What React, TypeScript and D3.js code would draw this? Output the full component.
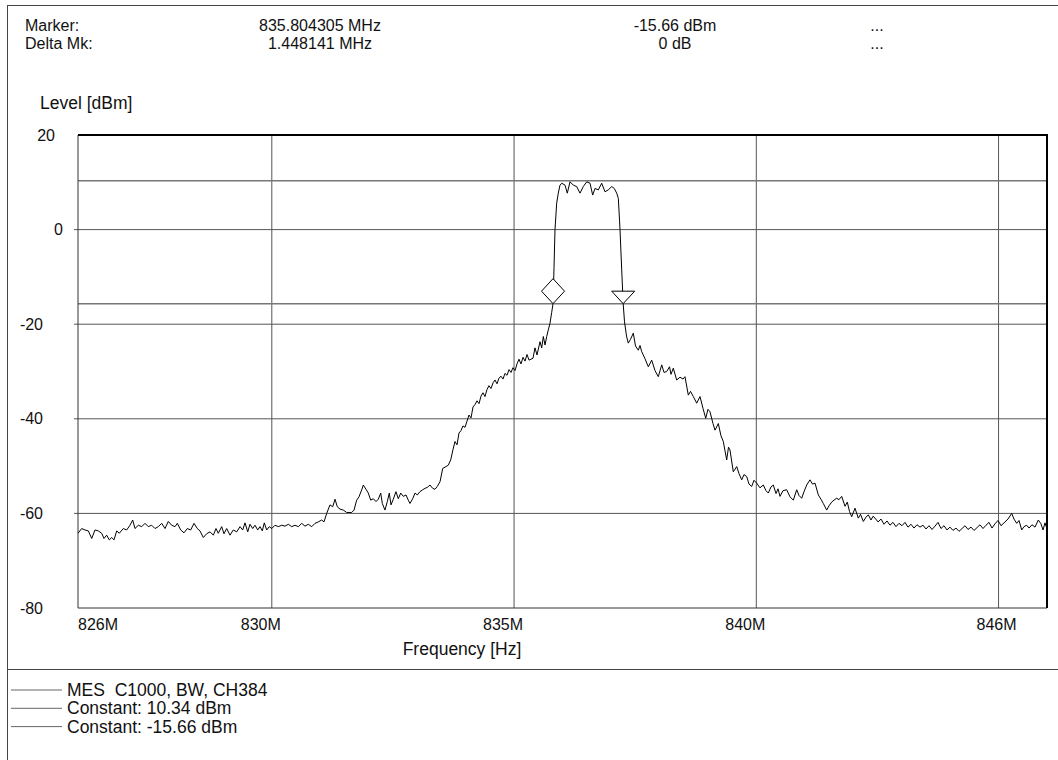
import * as d3 from "d3";

// trace segments, [frequency MHz, level dBm]
const noiseLow: [number, number][] = [
  [826.0, -64.2], [826.076, -63.2], [826.144, -63.5], [826.213, -63.7], [826.283, -65.3], [826.351, -63.5],
  [826.419, -63.7], [826.489, -64.2], [826.537, -65.3], [826.592, -64.6], [826.646, -65.6], [826.696, -65.1],
  [826.743, -65.6], [826.799, -63.7], [826.852, -64.2], [826.935, -63.2], [827.005, -63.5], [827.073, -62.5],
  [827.129, -61.4], [827.176, -63.2], [827.245, -62.5], [827.315, -62.8], [827.383, -62.1], [827.451, -62.8],
  [827.521, -62.5], [827.589, -63.2], [827.657, -62.8], [827.728, -62.1], [827.796, -63.2], [827.864, -61.7],
  [827.934, -62.5], [828.002, -62.8], [828.05, -62.1], [828.12, -63.5], [828.188, -64.1], [828.256, -63.2],
  [828.326, -63.5], [828.394, -62.1], [828.462, -63.2], [828.518, -63.7], [828.586, -65.1], [828.656, -64.3],
  [828.725, -63.9], [828.793, -64.6], [828.848, -63.2], [828.896, -64.2], [828.966, -62.8], [829.013, -64.3],
  [829.069, -63.2], [829.137, -64.6], [829.205, -63.5], [829.276, -63.9], [829.344, -62.8], [829.399, -63.5],
  [829.447, -62.0], [829.503, -63.9], [829.55, -62.3], [829.606, -63.2], [829.653, -62.5], [829.709, -63.5],
  [829.757, -62.8], [829.804, -63.7], [829.845, -62.0], [829.895, -63.5], [829.948, -62.8], [829.998, -63.2],
  [830.066, -62.5], [830.134, -62.8], [830.204, -62.5], [830.273, -62.7], [830.341, -62.3], [830.411, -62.8],
  [830.479, -62.5], [830.547, -62.8], [830.617, -62.1], [830.685, -62.7], [830.753, -62.3], [830.824, -62.8],
  [830.892, -62.1], [830.96, -61.8], [831.03, -61.4], [831.077, -61.8],
];

const spursLow: [number, number][] = [
  [831.133, -60.0], [831.201, -58.2], [831.257, -58.6], [831.305, -57.0], [831.352, -58.6], [831.408, -59.1],
  [831.476, -59.3], [831.546, -59.8], [831.649, -59.8], [831.697, -59.3], [831.752, -57.2], [831.8, -56.5],
  [831.856, -55.0], [831.889, -54.0], [831.944, -54.9], [831.992, -55.7], [832.041, -57.2], [832.095, -56.9],
  [832.151, -57.5], [832.198, -57.0], [832.248, -55.7], [832.281, -57.9], [832.336, -59.3], [832.384, -57.5],
  [832.425, -55.7], [832.46, -58.2], [832.508, -57.0], [832.563, -55.4], [832.611, -56.9], [832.661, -55.7],
  [832.714, -56.4], [832.77, -56.1], [832.817, -57.2], [832.852, -57.9], [832.908, -56.9], [832.956, -55.7],
  [833.003, -56.1], [833.059, -55.4], [833.115, -55.0], [833.162, -54.7], [833.21, -54.5], [833.265, -54.0],
  [833.321, -54.7], [833.368, -54.9], [833.416, -54.3], [833.472, -53.3], [833.527, -50.5], [833.596, -50.1],
  [833.643, -49.8], [833.692, -48.7],
];

const skirtLow: [number, number][] = [
  [833.74, -46.5], [833.781, -44.8], [833.823, -45.5], [833.864, -43.0], [833.905, -42.5], [833.946, -41.5],
  [833.988, -41.8], [834.029, -40.5], [834.07, -39.2], [834.112, -39.8], [834.153, -37.5], [834.194, -37.0],
  [834.235, -36.2], [834.277, -36.8], [834.318, -35.2], [834.359, -34.5], [834.4, -35.3], [834.442, -33.8],
  [834.483, -33.0], [834.524, -33.6], [834.566, -32.4], [834.607, -31.8], [834.648, -32.6], [834.689, -31.4],
  [834.731, -31.0], [834.772, -31.6], [834.813, -30.4], [834.855, -30.8], [834.896, -29.6], [834.937, -30.2],
  [834.978, -29.2], [835.02, -29.8], [835.061, -28.4], [835.102, -27.4], [835.143, -28.4], [835.185, -27.0],
  [835.226, -27.8], [835.267, -26.4], [835.309, -27.6], [835.35, -27.4], [835.391, -27.2], [835.432, -25.0],
  [835.474, -26.5], [835.536, -23.7], [835.571, -25.0], [835.604, -22.6], [835.639, -24.4], [835.674, -22.6],
  [835.707, -21.2], [835.742, -19.8], [835.777, -17.5], [835.804305, -15.66],
];

const channel: [number, number][] = [
  [835.825, -8.0], [835.845, 0.0], [835.88, 5.6], [835.913, 7.7], [835.948, 9.4], [835.984, 9.8],
  [836.052, 9.4], [836.099, 7.7], [836.155, 10.1], [836.223, 9.4], [836.293, 9.1], [836.361, 7.7],
  [836.429, 9.1], [836.5, 10.1], [836.568, 9.8], [836.623, 7.3], [836.671, 8.7], [836.739, 8.4],
  [836.809, 9.8], [836.877, 8.0], [836.945, 8.4], [837.016, 9.1], [837.069, 8.7], [837.119, 7.7],
  [837.152, 6.6], [837.177, 2.0], [837.187, 0.0], [837.222, -8.5], [837.252446, -15.66],
];

const skirtHigh: [number, number][] = [
  [837.28, -19.5], [837.321, -22.5], [837.358, -24.0], [837.404, -23.2], [837.461, -21.9], [837.507, -24.6],
  [837.565, -25.5], [837.6, -24.5], [837.635, -25.8], [837.703, -27.3], [837.771, -29.0], [837.841, -27.6],
  [837.909, -29.8], [837.977, -31.1], [838.048, -28.6], [838.095, -30.2], [838.151, -30.0], [838.209, -29.0],
  [838.239, -30.6], [838.287, -29.3], [838.357, -31.8], [838.425, -31.2], [838.487, -31.6], [838.528, -31.1],
  [838.597, -35.0], [838.642, -34.2], [838.7, -35.3], [838.77, -36.7], [838.838, -35.3], [838.9, -37.8],
  [838.956, -39.9], [839.003, -38.0], [839.044, -38.5], [839.106, -41.0], [839.148, -42.4], [839.216, -41.0],
  [839.271, -43.6], [839.319, -44.8], [839.389, -48.7], [839.426, -46.0], [839.457, -46.6], [839.525, -51.2],
  [839.596, -50.1], [839.643, -51.6], [839.699, -52.9], [839.746, -51.8], [839.802, -52.2], [839.849, -53.8],
  [839.905, -54.3], [839.953, -53.0], [840.008, -53.6], [840.076, -54.6], [840.145, -54.0], [840.2, -55.2],
  [840.248, -55.7], [840.303, -54.4], [840.351, -54.0], [840.407, -55.8], [840.448, -54.8], [840.489, -56.4],
  [840.551, -55.2], [840.627, -55.0], [840.696, -56.5], [840.764, -57.2], [840.834, -55.0], [840.881, -56.2],
  [840.937, -56.8], [840.985, -55.4], [841.04, -54.0], [841.108, -52.9], [841.16, -53.8], [841.212, -53.6],
  [841.28, -56.1], [841.335, -57.0], [841.383, -57.9], [841.453, -59.3], [841.5, -58.4], [841.556, -57.6],
  [841.604, -57.2], [841.659, -56.8], [841.707, -57.1], [841.763, -56.4], [841.831, -58.5], [841.878, -57.6],
  [841.924, -59.6], [841.969, -60.7], [842.037, -58.9], [842.105, -61.0], [842.151, -60.2], [842.209, -61.7],
  [842.264, -60.8], [842.312, -60.3], [842.367, -61.4], [842.409, -60.6],
];

const noiseHigh: [number, number][] = [
  [842.45, -61.0], [842.512, -61.8], [842.574, -61.2], [842.636, -62.3], [842.698, -61.6], [842.759, -62.5],
  [842.821, -61.9], [842.883, -62.8], [842.945, -62.1], [843.007, -62.6], [843.069, -61.9], [843.131, -62.9],
  [843.193, -62.3], [843.255, -63.1], [843.317, -62.4], [843.379, -62.9], [843.441, -62.5], [843.503, -63.3],
  [843.565, -62.6], [843.627, -63.4], [843.688, -62.7], [843.75, -61.9], [843.812, -63.2], [843.874, -62.6],
  [843.936, -63.5], [843.998, -62.9], [844.06, -63.6], [844.122, -63.1], [844.184, -63.8], [844.246, -63.2],
  [844.308, -62.6], [844.37, -63.4], [844.432, -62.9], [844.494, -63.6], [844.556, -63.0], [844.617, -62.4],
  [844.679, -63.2], [844.741, -62.5], [844.803, -61.9], [844.865, -63.1], [844.927, -62.2], [844.989, -61.5],
  [845.051, -62.6], [845.113, -62.0], [845.195, -61.2], [845.272, -60.0], [845.319, -61.2], [845.375, -62.1],
  [845.422, -61.5], [845.478, -63.5], [845.525, -62.8], [845.581, -62.5], [845.629, -63.1], [845.69, -62.4],
  [845.752, -62.9], [845.821, -61.4], [845.876, -62.2], [845.918, -63.5], [845.959, -62.0], [846.0, -63.3],
];

const yTicks = [20, 0, -20, -40, -60, -80];
const yGrid = [0, -20, -40, -60];
const xGrid = [830, 835, 840, 845];
const xTickValues = [826, 830, 835, 840, 845];
const xTickLabels = ["826M", "830M", "835M", "840M", "846M"];
const constantLevels = [10.34, -15.66];

const markerFreq = 835.804305;
const markerLevel = -15.66;
const deltaFreq = 1.448141;
const deltaLevel = 0;

const headerRows = [
  ["Marker:", "835.804305 MHz", "-15.66 dBm", "..."],
  ["Delta Mk:", "1.448141 MHz", "0 dB", "..."],
];
const legendItems = ["MES  C1000, BW, CH384", "Constant: 10.34 dBm", "Constant: -15.66 dBm"];

const W = 1058;
const H = 760;
const plot = { left: 78, right: 1047, top: 135, bottom: 608 };
const font = "'Liberation Sans', Arial, Helvetica, sans-serif";

export default function App() {
  const x = d3.scaleLinear().domain([826, 846]).range([plot.left, plot.right]);
  const y = d3.scaleLinear().domain([-80, 20]).range([plot.bottom, plot.top]);

  const trace = [...noiseLow, ...spursLow, ...skirtLow, ...channel, ...skirtHigh, ...noiseHigh];
  const line = d3
    .line<[number, number]>()
    .x((d) => x(d[0]))
    .y((d) => y(d[1]));

  const mx = x(markerFreq);
  const my = y(markerLevel);
  const dx = x(markerFreq + deltaFreq);
  const dy = y(markerLevel + deltaLevel);
  const diamond = `M${mx},${my} L${mx - 11.5},${my - 12.5} L${mx},${my - 25} L${mx + 11.5},${my - 12.5} Z`;
  const triangle = `M${dx},${dy} L${dx - 11.5},${dy - 12.5} L${dx + 11.5},${dy - 12.5} Z`;

  const headerCols = [
    { x: 25, anchor: "start" },
    { x: 320, anchor: "middle" },
    { x: 675, anchor: "middle" },
    { x: 877, anchor: "middle" },
  ];

  // tick label placement mimics the analyzer printout
  const xLabelPos = (i: number) => {
    if (i === 0) return { x: x(xTickValues[i]), anchor: "start" };
    if (i === xTickValues.length - 1) return { x: x(xTickValues[i]) - 2, anchor: "middle" };
    return { x: x(xTickValues[i]) + 9, anchor: "end" };
  };
  const yLabelX = (v: number) => (v > 0 ? 55 : v === 0 ? 63 : 43);

  return (
    <svg
      width={W}
      height={H}
      style={{ position: "absolute", left: 0, top: 0, background: "#fff" }}
      fontFamily={font}
      fontSize={16}
    >
      <rect x={0} y={0} width={W} height={H} fill="#fff" />
      {/* page frame */}
      <rect x={7.5} y={5.5} width={W + 10} height={H + 10} fill="none" stroke="#444" strokeWidth={1} />
      <line x1={7.5} x2={W} y1={669.5} y2={669.5} stroke="#444" strokeWidth={1} />

      {headerRows.map((row, r) =>
        row.map((t, c) => (
          <text
            key={`h${r}-${c}`}
            x={headerCols[c].x}
            y={31 + r * 18}
            textAnchor={headerCols[c].anchor as any}
            fill="#111"
          >
            {t}
          </text>
        ))
      )}

      <text x={40} y={109} fill="#111" fontSize={17.5}>
        Level [dBm]
      </text>

      {/* grid */}
      {yGrid.map((v) => (
        <line key={`yg${v}`} x1={plot.left - 4} x2={plot.right} y1={y(v)} y2={y(v)} stroke="#555" strokeWidth={1} />
      ))}
      {xGrid.map((v) => (
        <line key={`xg${v}`} x1={x(v)} x2={x(v)} y1={plot.top} y2={plot.bottom} stroke="#555" strokeWidth={1} />
      ))}
      {constantLevels.map((v) => (
        <line key={`c${v}`} x1={plot.left} x2={plot.right} y1={y(v)} y2={y(v)} stroke="#777" strokeWidth={1.5} />
      ))}

      {/* plot border */}
      <line x1={plot.left} x2={plot.left} y1={plot.top} y2={plot.bottom} stroke="#333" strokeWidth={1} />
      <line x1={plot.left} x2={plot.right} y1={plot.bottom} y2={plot.bottom} stroke="#333" strokeWidth={1} />
      <line x1={plot.left} x2={plot.right + 1} y1={plot.top} y2={plot.top} stroke="#000" strokeWidth={2} />
      <line x1={plot.right} x2={plot.right} y1={plot.top} y2={plot.bottom} stroke="#000" strokeWidth={2} />

      <path d={line(trace) ?? ""} fill="none" stroke="#000" strokeWidth={1} strokeLinejoin="round" />

      <path d={diamond} fill="#fff" stroke="#000" strokeWidth={1} />
      <path d={triangle} fill="#fff" stroke="#000" strokeWidth={1} />

      {yTicks.map((v) => (
        <text key={`yt${v}`} x={yLabelX(v)} y={y(v)} dy="0.35em" textAnchor="end" fill="#111">
          {v}
        </text>
      ))}
      {xTickLabels.map((t, i) => {
        const p = xLabelPos(i);
        return (
          <text key={t} x={p.x} y={624} dy="0.35em" textAnchor={p.anchor as any} fill="#111">
            {t}
          </text>
        );
      })}
      <text x={462} y={649} dy="0.35em" textAnchor="middle" fill="#111" fontSize={17.5}>
        Frequency [Hz]
      </text>

      {legendItems.map((t, i) => (
        <g key={t}>
          <line x1={11} x2={62} y1={690 + i * 18.3} y2={690 + i * 18.3} stroke="#666" strokeWidth={1} />
          <text
            x={67}
            y={690 + i * 18.3}
            dy="0.35em"
            fill="#111"
            fontSize={17.5}
            style={{ whiteSpace: "pre" }}
          >
            {t}
          </text>
        </g>
      ))}
    </svg>
  );
}
